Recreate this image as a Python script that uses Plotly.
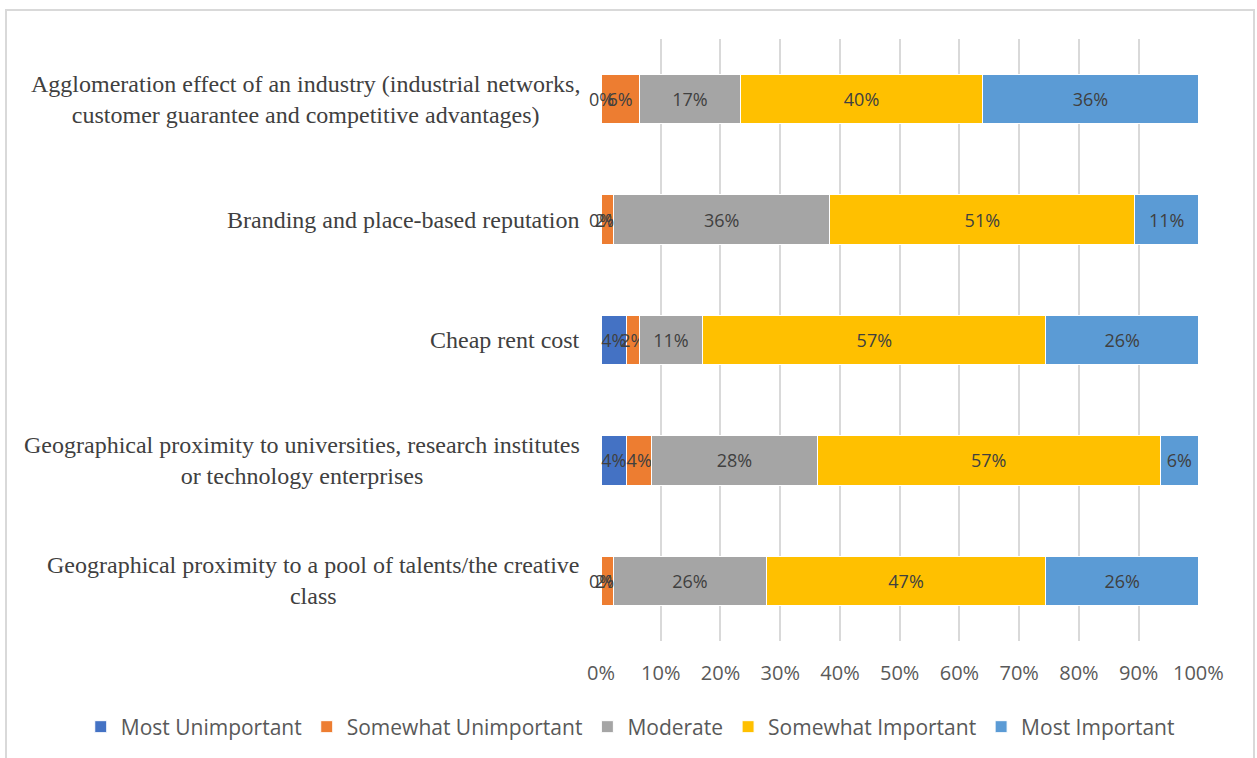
import plotly.graph_objects as go

# Survey factors (top to bottom) and share of respondents per rating, in percent
factors = [
    "Agglomeration effect of an industry (industrial networks,<br>customer guarantee and competitive advantages)",
    "Branding and place-based reputation",
    "Cheap rent cost",
    "Geographical proximity to universities, research institutes<br>or technology enterprises",
    "Geographical proximity to a pool of talents/the creative<br>class",
]
ratings = ["Most Unimportant", "Somewhat Unimportant", "Moderate",
           "Somewhat Important", "Most Important"]

most_unimportant = [0.0, 0.0, 4.26, 4.26, 0.0]
somewhat_unimportant = [6.38, 2.13, 2.13, 4.26, 2.13]
moderate = [17.02, 36.17, 10.64, 27.66, 25.53]
somewhat_important = [40.43, 51.06, 57.45, 57.44, 46.81]
most_important = [36.17, 10.64, 25.52, 6.38, 25.53]

series = [most_unimportant, somewhat_unimportant, moderate,
          somewhat_important, most_important]
colors = ["#4472C4", "#ED7D31", "#A5A5A5", "#FFC000", "#5B9BD5"]

x_ticks = list(range(0, 101, 10))
x_tick_text = [f"{t}%" for t in x_ticks]

LABEL_FONT = dict(color="#404040", size=18, family="Open Sans")

fig = go.Figure()
for name, vals, col in zip(ratings, series, colors):
    fig.add_trace(go.Bar(
        y=factors, x=vals, name=name, orientation="h",
        marker=dict(color=col, line=dict(color="white", width=1)),
        texttemplate="%{x:.0f}%", textposition="inside",
        insidetextanchor="middle", textangle=0,
        insidetextfont=LABEL_FONT,
        constraintext="none", cliponaxis=False,
    ))

# Zero-width segments get no bar text, so their labels are added as annotations
for i, f in enumerate(factors):
    base = 0.0
    for vals in series:
        v = vals[i]
        if v == 0:
            fig.add_annotation(x=base + v / 2, y=f, xref="x", yref="y",
                               text=f"{v:.0f}%", showarrow=False,
                               font=LABEL_FONT)
        base += v

# Category labels, centred line by line and right-aligned to the axis
for f in factors:
    fig.add_annotation(
        x=0, xref="paper", y=f, yref="y", text=f,
        xanchor="right", xshift=-19, align="center", showarrow=False,
        font=dict(family="Liberation Serif", size=24, color="#404040"),
    )

# Light frame around the chart
fig.add_shape(type="rect", xref="paper", yref="paper",
              x0=-0.995, x1=1.092, y0=-0.25, y1=1.048,
              line=dict(color="#D9D9D9", width=2), fillcolor="rgba(0,0,0,0)",
              layer="below")

fig.update_layout(
    width=1257, height=758,
    barmode="stack", bargap=0.59,
    plot_bgcolor="white", paper_bgcolor="white",
    margin=dict(l=601, r=58, t=39, b=116),
    uniformtext=dict(minsize=18, mode="show"),
    font=dict(family="Open Sans", color="#595959", size=18),
    xaxis=dict(range=[0, 100.1], tickvals=x_ticks, ticktext=x_tick_text,
               showgrid=True, gridcolor="#D9D9D9", gridwidth=2,
               zeroline=False, showline=False,
               ticks="outside", ticklen=14, tickcolor="rgba(0,0,0,0)",
               tickfont=dict(size=20, color="#595959")),
    yaxis=dict(autorange="reversed", showticklabels=False, showgrid=False,
               zeroline=False, showline=False),
    legend=dict(orientation="h", x=-0.87, xanchor="left",
                y=-0.141, yanchor="middle", bgcolor="rgba(0,0,0,0)",
                font=dict(size=21, color="#595959"), traceorder="normal"),
    showlegend=True,
)

fig.write_html("out.html")
